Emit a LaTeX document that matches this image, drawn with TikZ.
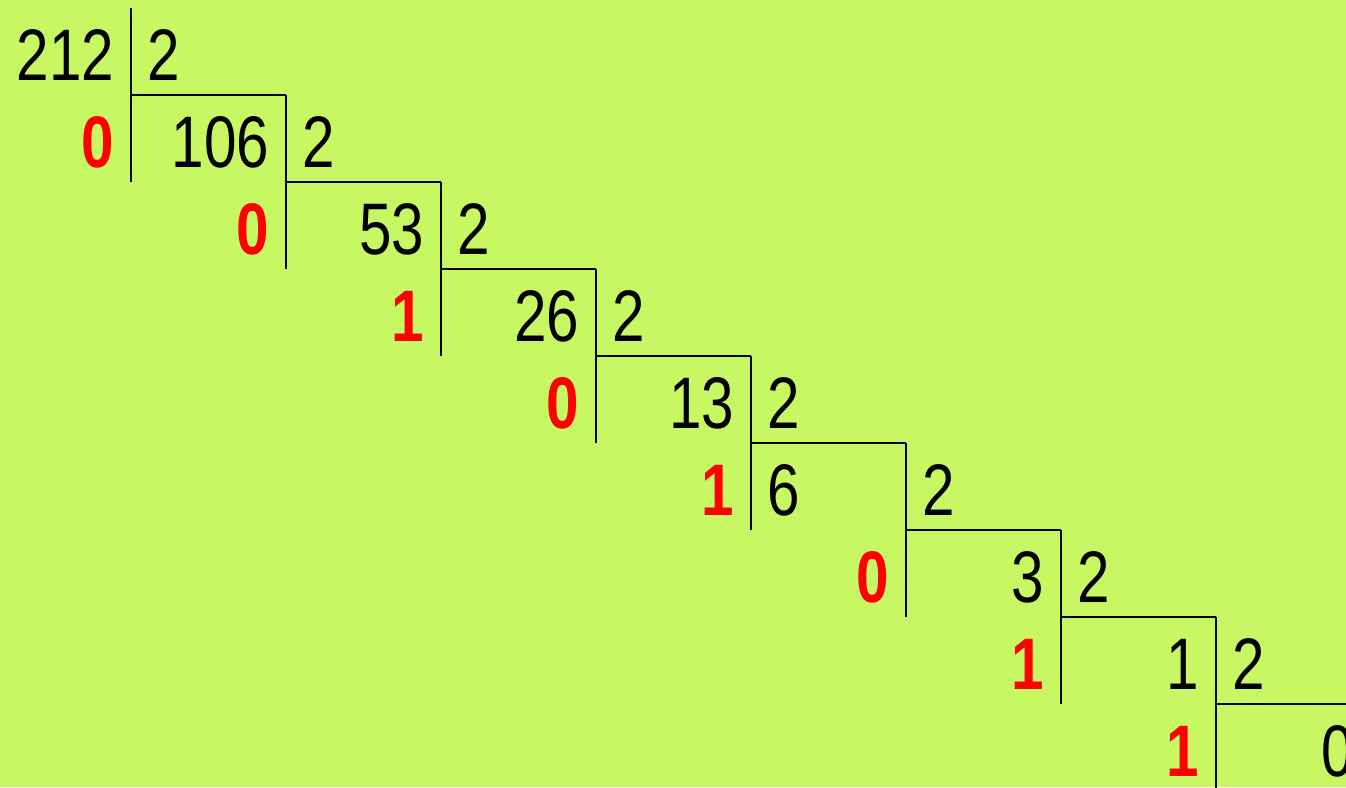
\documentclass[tikz,border=0pt]{standalone}
\usepackage{fontspec}
\setmainfont[FakeStretch=0.8]{Liberation Sans}
\definecolor{bggreen}{HTML}{C8F764}
\begin{document}
\begin{tikzpicture}[x=1pt,y=-1pt,line width=2pt,
  num/.style={font=\fontsize{73}{80}\selectfont,inner sep=0pt},
  rest/.style={font=\fontsize{73}{80}\selectfont\bfseries,text=red,inner sep=0pt}]
\fill[bggreen] (0,0) rectangle (1346,787);
\useasboundingbox (0,0) rectangle (1346,787);
% ladder lines
\foreach \k in {0,...,7}{
  \draw (131+155*\k,8+87*\k) -- (131+155*\k,182+87*\k);
  \draw (131+155*\k,95+87*\k) -- (286+155*\k,95+87*\k);
  \node[num,anchor=base west] (d\k) at (146+155*\k,80+87*\k) {2};
}
% quotients
\foreach \q [count=\k from 0] in {212,106,53,26,13,,3,1,0}
  \node[num,anchor=base east] (q\k) at (115+155*\k,80+87*\k) {\q};
\node[num,anchor=base west] (q5) at (766,515) {6};
% remainders
\foreach \r [count=\k from 1] in {0,0,1,0,1,0,1,1}
  \node[rest,anchor=base east] (r\k) at (-40+155*\k,80+87*\k) {\r};
\end{tikzpicture}
\end{document}
